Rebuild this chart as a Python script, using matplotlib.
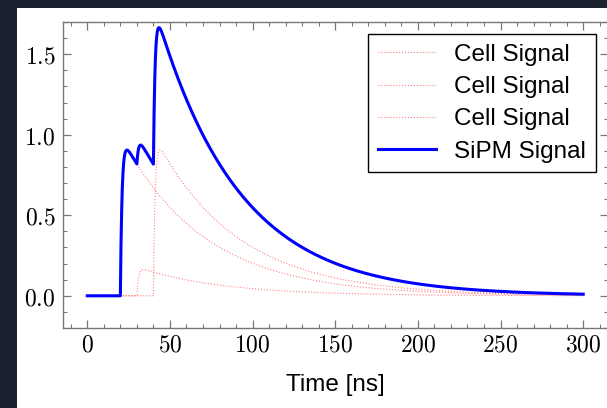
import numpy as np
import matplotlib
matplotlib.use('Agg')
import matplotlib.pyplot as plt
from matplotlib.ticker import MultipleLocator, FuncFormatter
from matplotlib.patches import Rectangle

# pulse parameters
cell_start = [20, 30, 40]        # ns, arrival time of each fired cell
cell_amp = [1.0, 0.18, 1.0]      # amplitude of each cell pulse
tau_rise = 1.0                   # ns
tau_fall = 50.0                  # ns
t_end = 300

plt.rcParams['mathtext.fontset'] = 'cm'


def cell_pulse(t, t0, amp):
    dt = np.clip(t - t0, 0, None)
    return np.where(t >= t0, amp * (np.exp(-dt / tau_fall) - np.exp(-dt / tau_rise)), 0.0)


t = np.linspace(0, t_end, 3001)
cells = [cell_pulse(t, t0, a) for t0, a in zip(cell_start, cell_amp)]
sipm = np.sum(cells, axis=0)

fig = plt.figure(figsize=(6.07, 4.08), dpi=100, facecolor='#1c2130')
fig.patches.append(Rectangle((17 / 607, 0), 1, 1 - 8 / 408, transform=fig.transFigure,
                             facecolor='white', edgecolor='none', zorder=-10))
ax = fig.add_axes([62.5 / 607, 80 / 408, 545.5 / 607, 306 / 408])

for c in cells:
    ax.plot(t, c, color='red', ls=':', lw=0.8, alpha=0.5, label='Cell Signal')
ax.plot(t, sipm, color='blue', lw=2.2, label='SiPM Signal')

ax.set_xlim(-15, 315)
ax.set_ylim(-0.2, 1.7)
ax.xaxis.set_major_locator(MultipleLocator(50))
ax.xaxis.set_minor_locator(MultipleLocator(10))
ax.yaxis.set_major_locator(MultipleLocator(0.5))
ax.yaxis.set_minor_locator(MultipleLocator(0.1))
ax.xaxis.set_major_formatter(FuncFormatter(lambda v, p: f'${v:.0f}$'))
ax.yaxis.set_major_formatter(FuncFormatter(lambda v, p: f'${v:.1f}$'))

for s in ax.spines.values():
    s.set_color('#777777')
    s.set_linewidth(1)
ax.tick_params(which='both', direction='in', top=True, right=True, color='#777777', labelsize=17)
ax.tick_params(which='major', length=6, width=0.9)
ax.tick_params(which='minor', length=3, width=0.8)
ax.tick_params(axis='x', which='major', pad=3)
ax.tick_params(axis='y', which='major', pad=5)

ax.set_xlabel('Time [ns]', family='Liberation Sans', fontsize=17.5, labelpad=13)

leg = ax.legend(loc='upper right', prop={'family': 'Liberation Sans', 'size': 17.5},
                fancybox=False, framealpha=1, edgecolor='black', handlelength=2.4,
                handletextpad=0.75, labelspacing=0.42)
leg.get_frame().set_linewidth(1)

fig.savefig('out.png', dpi=100, facecolor=fig.get_facecolor())
